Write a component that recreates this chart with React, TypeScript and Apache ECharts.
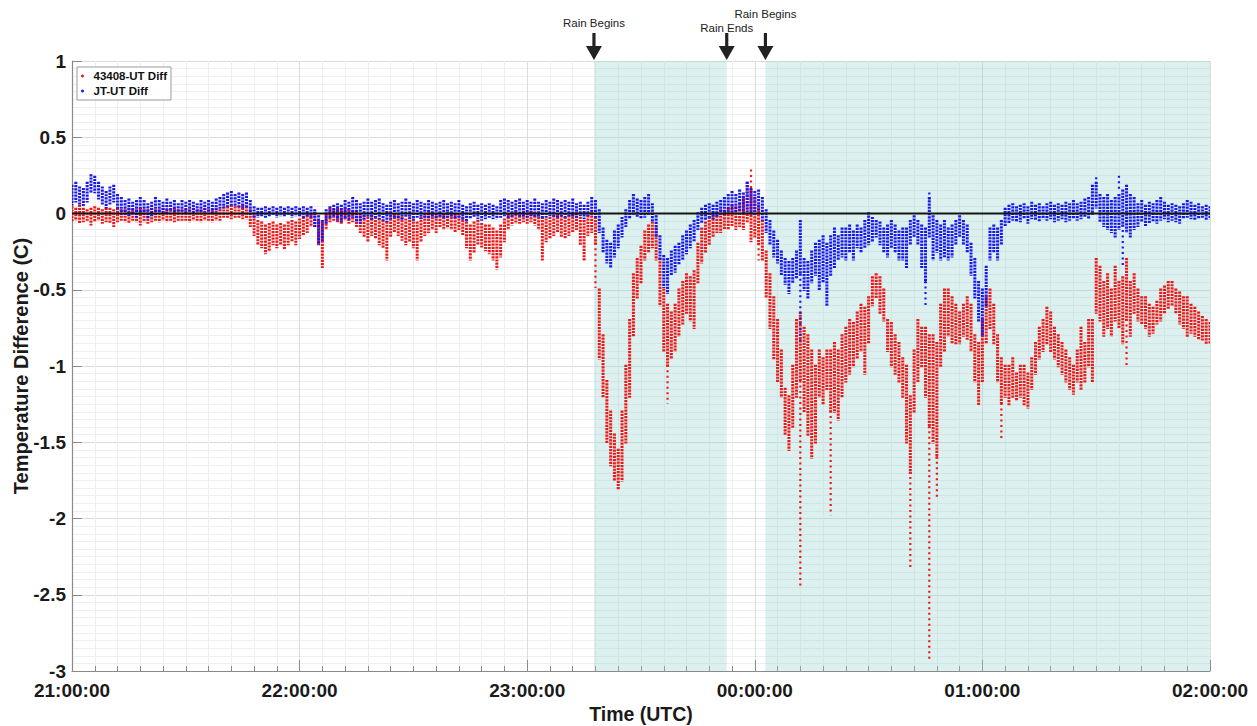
import React, { useEffect, useRef } from 'react';
import * as echarts from 'echarts';

// x axis: minutes after 21:00:00 UTC
const xTickLabels = ['21:00:00', '22:00:00', '23:00:00', '00:00:00', '01:00:00', '02:00:00'];
const seriesNames = ['43408-UT Diff', 'JT-UT Diff'];

// rain annotations (minutes after 21:00)
const rainTimes = [137.6, 172.6, 182.8];
const rainLabels = ['Rain Begins', 'Rain Ends', 'Rain Begins'];
const rainSpans = [[137.6, 172.6], [182.8, 300]];

// 43408-UT Diff: upper / lower edge of the dense point cloud each minute (m = 0..300)
const redHi = [
  0.04, 0.03, 0.05, 0.03, 0.02, 0.03, 0.04, 0.03, 0.02, 0.03,
  0.03, 0.02, 0.03, 0.02, 0.02, 0.03, 0.02, 0.02, 0.03, 0.02,
  0.02, 0.03, 0.02, 0.02, 0.03, 0.02, 0.02, 0.03, 0.02, 0.02,
  0.02, 0.02, 0.03, 0.02, 0.02, 0.03, 0.02, 0.02, 0.03, 0.02,
  0.04, 0.04, 0.05, 0.04, 0.04, 0.05, 0.04, 0.02, -0.02, -0.05,
  -0.06, -0.08, -0.07, -0.06, -0.08, -0.07, -0.08, -0.06, -0.05, -0.06,
  -0.04, -0.03, -0.02, -0.01, 0.0, -0.05, -0.06, -0.01, 0.03, 0.02,
  0.03, 0.02, 0.03, 0.02, 0.01, 0.0, -0.02, -0.02, -0.03, -0.02,
  -0.03, -0.04, -0.05, -0.06, -0.02, -0.01, -0.02, -0.03, -0.04, -0.03,
  -0.04, -0.06, -0.03, -0.02, 0.0, -0.01, -0.02, 0.0, -0.01, 0.0,
  -0.01, -0.01, -0.02, -0.03, -0.06, -0.08, -0.06, -0.05, -0.07, -0.08,
  -0.08, -0.1, -0.12, -0.08, -0.04, -0.01, 0.0, 0.01, 0.0, 0.01,
  0.0, 0.01, 0.0, -0.01, -0.03, -0.04, -0.03, -0.02, -0.01, -0.02,
  -0.03, -0.02, -0.01, 0.0, -0.03, -0.05, -0.02, 0.0, -0.03, -0.5,
  -0.8, -1.1, -1.3, -1.45, -1.55, -1.3, -1.0, -0.7, -0.4, -0.3,
  -0.22, -0.12, -0.08, -0.06, -0.1, -0.3, -0.5, -0.6, -0.65, -0.6,
  -0.5, -0.45, -0.4, -0.42, -0.38, -0.2, -0.1, -0.06, -0.03, -0.02,
  0.0, 0.02, 0.01, 0.03, 0.05, 0.04, 0.06, 0.1, 0.2, 0.15,
  0.1, 0.05, -0.05, -0.25, -0.4, -0.55, -0.7, -0.9, -1.15, -1.2,
  -1.0, -0.7, -0.65, -0.75, -0.8, -0.9, -1.0, -0.9, -0.95, -0.9,
  -0.9, -0.85, -0.9, -0.8, -0.75, -0.7, -0.72, -0.65, -0.6, -0.62,
  -0.55, -0.42, -0.4, -0.42, -0.5, -0.7, -0.72, -0.8, -0.85, -0.95,
  -1.0, -1.2, -0.9, -0.7, -0.75, -0.75, -0.8, -0.8, -0.85, -0.6,
  -0.5, -0.5, -0.55, -0.6, -0.65, -0.6, -0.55, -0.6, -0.8, -0.85,
  -0.7, -0.55, -0.5, -0.6, -0.8, -0.95, -1.0, -1.0, -0.95, -1.05,
  -1.0, -1.0, -1.05, -0.95, -0.85, -0.75, -0.7, -0.62, -0.65, -0.75,
  -0.8, -0.85, -0.9, -0.95, -1.0, -0.9, -0.75, -0.85, -0.7, -0.7,
  -0.3, -0.35, -0.45, -0.4, -0.5, -0.35, -0.45, -0.42, -0.3, -0.45,
  -0.4, -0.5, -0.55, -0.55, -0.6, -0.62, -0.58, -0.5, -0.48, -0.45,
  -0.45, -0.5, -0.52, -0.55, -0.55, -0.6, -0.62, -0.65, -0.68, -0.7, -0.72,
];
const redLo = [
  -0.05, -0.04, -0.06, -0.05, -0.04, -0.07, -0.05, -0.04, -0.06, -0.05,
  -0.06, -0.08, -0.05, -0.04, -0.05, -0.06, -0.04, -0.05, -0.07, -0.05,
  -0.06, -0.05, -0.04, -0.05, -0.04, -0.05, -0.04, -0.05, -0.04, -0.04,
  -0.04, -0.05, -0.04, -0.04, -0.05, -0.04, -0.04, -0.05, -0.04, -0.04,
  -0.02, -0.02, -0.03, -0.02, -0.02, -0.03, -0.03, -0.08, -0.14, -0.2,
  -0.22, -0.26, -0.24, -0.2, -0.22, -0.2, -0.23, -0.2, -0.18, -0.2,
  -0.16, -0.14, -0.12, -0.08, -0.08, -0.2, -0.35, -0.1, -0.05, -0.04,
  -0.05, -0.06, -0.04, -0.06, -0.05, -0.08, -0.12, -0.15, -0.18, -0.14,
  -0.16, -0.2, -0.22, -0.3, -0.15, -0.12, -0.14, -0.17, -0.2, -0.18,
  -0.22, -0.3, -0.18, -0.14, -0.12, -0.1, -0.12, -0.08, -0.1, -0.09,
  -0.1, -0.12, -0.1, -0.14, -0.22, -0.3, -0.25, -0.2, -0.22, -0.24,
  -0.26, -0.3, -0.36, -0.28, -0.18, -0.1, -0.07, -0.06, -0.06, -0.05,
  -0.06, -0.05, -0.07, -0.1, -0.3, -0.18, -0.16, -0.14, -0.12, -0.15,
  -0.16, -0.14, -0.12, -0.1, -0.2, -0.3, -0.14, -0.12, -0.2, -0.95,
  -1.2, -1.5, -1.65, -1.75, -1.8, -1.75, -1.5, -1.2, -0.8, -0.55,
  -0.45, -0.3, -0.25, -0.22, -0.3, -0.6, -0.9, -1.0, -0.95, -0.9,
  -0.8, -0.72, -0.65, -0.7, -0.75, -0.45, -0.32, -0.25, -0.2, -0.15,
  -0.12, -0.12, -0.1, -0.1, -0.08, -0.1, -0.08, -0.1, -0.05, -0.18,
  -0.15, -0.2, -0.3, -0.55, -0.75, -0.95, -1.1, -1.2, -1.45, -1.55,
  -1.4, -1.2, -1.1, -1.3, -1.45, -1.6, -1.5, -1.2, -1.25, -1.15,
  -1.3, -1.3, -1.35, -1.2, -1.1, -1.05, -1.0, -0.95, -0.9, -1.05,
  -0.85, -0.6, -0.55, -0.65, -0.7, -0.9, -1.0, -1.05, -1.1, -1.2,
  -1.5, -1.7, -1.3, -1.1, -1.0, -1.2, -1.4, -1.5, -1.6, -1.0,
  -0.9, -0.8, -0.85, -0.85, -0.85, -0.8, -0.82, -0.9, -1.1, -1.25,
  -1.1, -0.85, -0.75, -0.85, -1.1, -1.25, -1.2, -1.25, -1.2, -1.22,
  -1.2, -1.25, -1.27, -1.15, -1.05, -0.95, -0.9, -0.85, -0.9, -0.95,
  -1.0, -1.05, -1.1, -1.15, -1.18, -1.1, -1.15, -1.1, -1.0, -1.1,
  -0.65, -0.7, -0.8, -0.75, -0.8, -0.7, -0.75, -0.85, -0.7, -0.8,
  -0.65, -0.7, -0.72, -0.75, -0.8, -0.78, -0.72, -0.7, -0.65, -0.62,
  -0.6, -0.65, -0.72, -0.75, -0.8, -0.78, -0.8, -0.82, -0.83, -0.85, -0.85,
];
// sparse outlying streaks: [minute, value a, value b]
const redStreaks = [
  [138, -0.2, -0.48], [157, -1.0, -1.24], [179, 0.15, 0.28], [181, -0.2, -0.3],
  [192, -1.1, -2.45], [200, -1.3, -1.97], [221, -1.7, -2.32], [226, -1.4, -2.93],
  [228, -1.6, -1.86], [245, -1.25, -1.47], [278, -0.7, -1.0],
];

// JT-UT Diff
const blueHi = [
  0.18, 0.2, 0.17, 0.16, 0.2, 0.25, 0.24, 0.2, 0.17, 0.14,
  0.17, 0.18, 0.12, 0.1, 0.08, 0.09, 0.07, 0.08, 0.1, 0.08,
  0.06, 0.07, 0.1, 0.08, 0.07, 0.09, 0.07, 0.08, 0.06, 0.08,
  0.07, 0.08, 0.07, 0.06, 0.08, 0.07, 0.08, 0.07, 0.09, 0.1,
  0.12, 0.13, 0.14, 0.12, 0.13, 0.12, 0.13, 0.08, 0.04, 0.03,
  0.03, 0.04, 0.03, 0.04, 0.03, 0.04, 0.03, 0.04, 0.03, 0.04,
  0.03, 0.04, 0.03, 0.04, 0.02, -0.02, -0.05, 0.02, 0.04, 0.05,
  0.06, 0.05, 0.08, 0.07, 0.1, 0.08, 0.06, 0.07, 0.09, 0.07,
  0.08, 0.09, 0.06, 0.05, 0.07, 0.08, 0.06, 0.07, 0.09, 0.07,
  0.06, 0.08, 0.07, 0.06, 0.08, 0.07, 0.06, 0.07, 0.08, 0.06,
  0.07, 0.06, 0.08, 0.05, 0.04, 0.06, 0.07, 0.05, 0.06, 0.05,
  0.06, 0.05, 0.04, 0.08, 0.09, 0.08, 0.07, 0.08, 0.09, 0.07,
  0.08, 0.07, 0.09, 0.07, 0.06, 0.08, 0.07, 0.09, 0.08, 0.07,
  0.08, 0.07, 0.09, 0.06, 0.07, 0.05, 0.07, 0.1, 0.08, 0.02,
  -0.1, -0.18, -0.2, -0.12, -0.08, -0.03, 0.02, 0.08, 0.12, 0.09,
  0.08, 0.1, 0.12, 0.06, -0.02, -0.15, -0.28, -0.3, -0.25, -0.22,
  -0.2, -0.15, -0.12, -0.08, -0.05, 0.0, 0.03, 0.05, 0.06, 0.05,
  0.07, 0.08, 0.1, 0.12, 0.14, 0.12, 0.15, 0.13, 0.2, 0.16,
  0.14, 0.15, 0.1, 0.02, -0.05, -0.12, -0.18, -0.25, -0.3, -0.32,
  -0.3, -0.25, -0.05, -0.3, -0.32, -0.25, -0.2, -0.18, -0.15, -0.2,
  -0.15, -0.1, -0.15, -0.1, -0.1, -0.08, -0.12, -0.08, -0.1, -0.05,
  0.0, -0.03, -0.05, -0.06, -0.1, -0.08, -0.05, -0.08, -0.12, -0.1,
  -0.1, -0.05, -0.02, -0.05, -0.08, -0.1, 0.1, -0.02, -0.05, -0.08,
  -0.05, -0.1, -0.08, -0.05, -0.02, -0.05, -0.08, -0.2, -0.3, -0.45,
  -0.5, -0.35, -0.1, -0.08, -0.1, -0.05, 0.03, 0.05, 0.06, 0.04,
  0.05, 0.06, 0.04, 0.07, 0.05, 0.06, 0.04, 0.06, 0.07, 0.05,
  0.06, 0.05, 0.07, 0.06, 0.08, 0.06, 0.07, 0.09, 0.1, 0.18,
  0.2, 0.12, 0.1, 0.12, 0.08, 0.1, 0.12, 0.15, 0.18, 0.12,
  0.1, 0.06, 0.08, 0.05, 0.07, 0.06, 0.08, 0.1, 0.07, 0.05,
  0.06, 0.05, 0.04, 0.06, 0.08, 0.07, 0.05, 0.06, 0.04, 0.05, 0.04,
];
const blueLo = [
  0.06, 0.08, 0.06, 0.05, 0.08, 0.14, 0.14, 0.1, 0.06, 0.04,
  0.06, 0.08, 0.03, 0.0, 0.0, -0.01, 0.0, -0.02, 0.0, 0.0,
  -0.03, -0.01, 0.0, 0.01, 0.0, 0.01, 0.02, 0.01, 0.01, 0.02,
  0.01, 0.02, 0.01, 0.02, 0.01, 0.02, 0.02, 0.01, 0.02, 0.03,
  0.04, 0.05, 0.06, 0.05, 0.05, 0.04, 0.04, 0.0, -0.02, -0.02,
  -0.01, -0.02, -0.01, 0.0, -0.02, -0.01, -0.01, 0.0, -0.02, -0.01,
  -0.01, -0.02, -0.01, -0.02, -0.08, -0.2, -0.18, -0.06, -0.03, -0.02,
  -0.04, -0.05, -0.03, -0.04, -0.02, -0.05, -0.06, -0.03, -0.02, -0.04,
  -0.02, -0.03, -0.04, -0.05, -0.03, -0.02, -0.03, -0.04, -0.02, -0.03,
  -0.04, -0.02, -0.03, -0.02, -0.03, -0.02, -0.03, -0.02, -0.03, -0.02,
  -0.02, -0.03, -0.02, -0.04, -0.05, -0.03, -0.02, -0.03, -0.04, -0.03,
  -0.02, -0.03, -0.03, -0.02, -0.01, -0.02, -0.02, -0.01, -0.02, -0.02,
  -0.02, -0.01, -0.02, -0.02, -0.03, -0.02, -0.01, -0.02, -0.02, -0.01,
  -0.02, -0.01, -0.02, -0.02, -0.01, -0.03, -0.01, 0.0, -0.02, -0.12,
  -0.25, -0.32, -0.35, -0.28, -0.22, -0.15, -0.08, -0.03, 0.0, -0.02,
  -0.03, -0.02, 0.0, -0.05, -0.15, -0.3, -0.48, -0.52, -0.4, -0.38,
  -0.33, -0.3, -0.26, -0.22, -0.18, -0.1, -0.06, -0.04, -0.02, -0.03,
  -0.02, 0.0, 0.0, 0.02, 0.02, 0.01, 0.02, 0.0, 0.02, 0.0,
  0.0, 0.02, -0.04, -0.12, -0.2, -0.28, -0.32, -0.4, -0.46, -0.52,
  -0.45, -0.42, -0.4, -0.5, -0.55, -0.45, -0.4, -0.5, -0.45, -0.6,
  -0.4, -0.35, -0.3, -0.28, -0.3, -0.25, -0.3, -0.22, -0.25, -0.22,
  -0.2, -0.18, -0.15, -0.2, -0.25, -0.28, -0.22, -0.25, -0.3, -0.3,
  -0.35, -0.2, -0.15, -0.2, -0.35, -0.45, -0.15, -0.3, -0.25, -0.3,
  -0.28, -0.3, -0.28, -0.2, -0.15, -0.2, -0.25, -0.4, -0.55, -0.7,
  -0.8, -0.6, -0.3, -0.25, -0.3, -0.2, -0.08, -0.06, -0.04, -0.05,
  -0.05, -0.03, -0.06, -0.03, -0.04, -0.05, -0.03, -0.04, -0.03, -0.05,
  -0.04, -0.03, -0.05, -0.04, -0.03, -0.04, -0.03, -0.02, -0.03, 0.0,
  0.04, -0.05, -0.08, -0.1, -0.12, -0.15, -0.1, -0.08, -0.12, -0.15,
  -0.1, -0.08, -0.05, -0.08, -0.06, -0.05, -0.06, -0.04, -0.03, -0.05,
  -0.04, -0.05, -0.06, -0.03, -0.02, -0.03, -0.04, -0.03, -0.02, -0.04, -0.03,
];
const blueStreaks = [
  [192, -0.4, -0.83], [225, -0.45, -0.6], [226, 0.1, 0.13],
  [270, 0.2, 0.23], [276, 0.15, 0.24], [277, -0.08, -0.33],
];

const RED = '#ee1818';
const BLUE = '#1818ee';
const FONT = '"Liberation Sans", Arial, Helvetica, sans-serif';

function buildData(hi: number[], lo: number[], streaks: number[][]) {
  const d: number[][] = hi.map((h, i) => [i, lo[i], h, 0]);
  streaks.forEach(([m, a, b]) => d.push([m, Math.min(a, b), Math.max(a, b), 1]));
  return d;
}

function makeRender(color: string) {
  return (params: any, api: any) => {
    const m = api.value(0);
    const lo = api.value(1);
    const hi = api.value(2);
    const sparse = api.value(3);
    const top = api.coord([m, hi]);
    const bot = api.coord([m, lo]);
    return {
      type: 'line',
      shape: { x1: top[0], y1: top[1] - 1.2, x2: bot[0], y2: bot[1] + 1.2 },
      style: {
        stroke: color,
        lineWidth: sparse ? 2.2 : 3,
        lineDash: sparse ? [2, 3.5] : [2.2, 1],
        fill: null,
      },
    };
  };
}

export default function App() {
  const ref = useRef<HTMLDivElement>(null);
  useEffect(() => {
    if (!ref.current) return;
    const chart = echarts.init(ref.current, null, { renderer: 'svg' });
    const axisGray = '#8a8a8a';
    const option: any = {
      animation: false,
      backgroundColor: '#ffffff',
      textStyle: { fontFamily: FONT },
      grid: { left: 72, right: 47, top: 61, bottom: 55, containLabel: false, outerBoundsMode: 'none' },
      legend: {
        data: [
          { name: seriesNames[0], icon: 'circle' },
          { name: seriesNames[1], icon: 'circle' },
        ],
        orient: 'vertical',
        left: 77,
        top: 67,
        itemWidth: 12,
        itemHeight: 3,
        itemGap: 3,
        padding: [3, 4, 3, 4],
        backgroundColor: '#ffffff',
        borderColor: '#9a9a9a',
        borderWidth: 1,
        textStyle: { fontFamily: FONT, fontSize: 11.5, fontWeight: 'bold', color: '#111' },
      },
      xAxis: {
        type: 'value',
        min: 0,
        max: 300,
        interval: 60,
        name: 'Time (UTC)',
        nameLocation: 'middle',
        nameGap: 33,
        nameMoveOverlap: false,
        nameTextStyle: { fontFamily: FONT, fontSize: 19.5, fontWeight: 'bold', color: '#1a1a1a' },
        axisLine: { show: true, onZero: false, lineStyle: { color: axisGray, width: 1.2 } },
        axisTick: { show: true, inside: true, length: 11, lineStyle: { color: axisGray } },
        minorTick: { show: true, splitNumber: 10, length: 5, lineStyle: { color: axisGray } },
        axisLabel: {
          margin: 10,
          fontFamily: FONT,
          fontSize: 19,
          fontWeight: 'bold',
          color: '#1a1a1a',
          formatter: (v: number) => xTickLabels[Math.round(v / 60)],
        },
        splitLine: { show: true, lineStyle: { color: '#dcdcdc', width: 1 } },
        minorSplitLine: { show: true, lineStyle: { color: '#efefef', width: 1 } },
      },
      yAxis: {
        type: 'value',
        min: -3,
        max: 1,
        interval: 0.5,
        name: 'Temperature Difference (C)',
        nameLocation: 'middle',
        nameGap: 41,
        nameMoveOverlap: false,
        nameTextStyle: { fontFamily: FONT, fontSize: 20, fontWeight: 'bold', color: '#1a1a1a' },
        axisLine: { show: true, lineStyle: { color: axisGray, width: 1.2 } },
        axisTick: { show: true, inside: true, length: 10, lineStyle: { color: axisGray } },
        minorTick: { show: false, splitNumber: 10 },
        axisLabel: { margin: 6, fontFamily: FONT, fontSize: 19, fontWeight: 'bold', color: '#1a1a1a' },
        splitLine: { show: true, lineStyle: { color: '#dcdcdc', width: 1 } },
        minorSplitLine: { show: true, lineStyle: { color: '#efefef', width: 1 } },
      },
      series: [
        {
          name: 'rain',
          type: 'line',
          data: [],
          z: 1,
          silent: true,
          markArea: {
            silent: true,
            itemStyle: { color: 'rgba(150, 212, 206, 0.33)' },
            data: rainSpans.map(([a, b]) => [{ xAxis: a }, { xAxis: b }]),
          },
        },
        {
          name: seriesNames[0],
          type: 'custom',
          clip: true,
          z: 2,
          itemStyle: { color: RED },
          encode: { x: 0, y: [1, 2] },
          renderItem: makeRender(RED),
          data: buildData(redHi, redLo, redStreaks),
        },
        {
          name: seriesNames[1],
          type: 'custom',
          clip: true,
          z: 3,
          itemStyle: { color: BLUE },
          encode: { x: 0, y: [1, 2] },
          renderItem: makeRender(BLUE),
          data: buildData(blueHi, blueLo, blueStreaks),
        },
        {
          name: 'zero',
          type: 'line',
          z: 5,
          silent: true,
          showSymbol: false,
          symbol: 'none',
          lineStyle: { color: '#151515', width: 2 },
          data: [[0, 0], [300, 0]],
        },
      ],
    };
    chart.setOption(option);

    const labelY = [23, 28, 14];
    const graphics: any[] = [];
    rainTimes.forEach((t, i) => {
      const x = chart.convertToPixel({ xAxisIndex: 0 }, t) as number;
      graphics.push({
        type: 'text',
        x,
        y: labelY[i],
        style: {
          text: rainLabels[i],
          fontFamily: FONT,
          fontSize: 11.5,
          fill: '#222',
          textAlign: 'center',
          textVerticalAlign: 'middle',
        },
      });
      graphics.push({
        type: 'rect',
        shape: { x: x - 1.6, y: 33, width: 3.2, height: 14 },
        style: { fill: '#222' },
      });
      graphics.push({
        type: 'polygon',
        shape: { points: [[x - 8, 46], [x + 8, 46], [x, 60]] },
        style: { fill: '#222' },
      });
    });
    chart.setOption({ graphic: graphics });

    return () => chart.dispose();
  }, []);
  return (
    <div
      ref={ref}
      style={{ position: 'fixed', left: 0, top: 0, width: 1257, height: 726, background: '#fff' }}
    />
  );
}
